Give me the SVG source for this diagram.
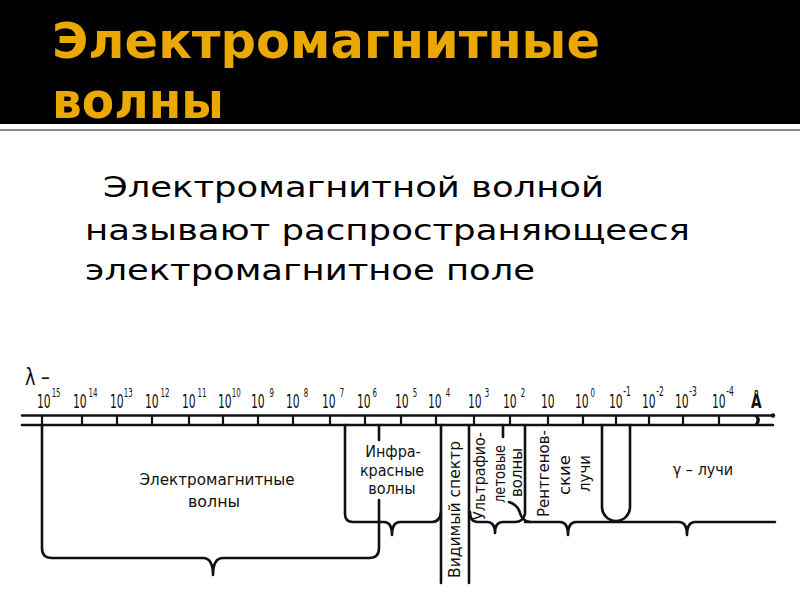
<svg xmlns="http://www.w3.org/2000/svg" width="800" height="600" viewBox="0 0 800 600">
<style>
.title{font-family:"DejaVu Sans","Liberation Sans",sans-serif;font-weight:bold;font-size:50px;fill:#EBA800}
.body{font-family:"DejaVu Sans","Liberation Sans",sans-serif;font-size:29px;fill:#000}
.lab{font-family:"DejaVu Sans Condensed","DejaVu Sans","Liberation Sans",sans-serif;font-size:16px;fill:#111}
.num text{font-family:"DejaVu Sans Condensed","DejaVu Sans","Liberation Sans",sans-serif;fill:#111;font-size:20px}
.s{font-size:13px}
.ln{fill:none;stroke:#111;stroke-width:2.6;stroke-linejoin:round;stroke-linecap:round}
.tk{fill:none;stroke:#111;stroke-width:2.2}
</style>
<rect x="0" y="0" width="800" height="600" fill="#fff"/>
<g id="header">
<rect x="0" y="0" width="800" height="124" fill="#000"/>
<line x1="0" y1="130" x2="800" y2="130" stroke="#8a8a8a" stroke-width="2"/>
<text class="title" x="52" y="58" textLength="548" lengthAdjust="spacingAndGlyphs">Электромагнитные</text>
<text class="title" x="52" y="118" textLength="172" lengthAdjust="spacingAndGlyphs">волны</text>
</g>
<g id="definition">
<text class="body" x="103" y="197" textLength="501" lengthAdjust="spacingAndGlyphs">Электромагнитной волной</text>
<text class="body" x="85" y="240" textLength="605" lengthAdjust="spacingAndGlyphs">называют распространяющееся</text>
<text class="body" x="85" y="280" textLength="450" lengthAdjust="spacingAndGlyphs">электромагнитное поле</text>
</g>
<g id="scale">
<g class="num">
<text transform="translate(25,385) scale(0.85,1)" style="font-size:23px">λ –</text>
<text transform="translate(37,408) scale(0.6,1)">10<tspan class="s" dx="1.5" dy="-11">15</tspan></text>
<text transform="translate(73,408) scale(0.6,1)">10<tspan class="s" dx="3" dy="-11">14</tspan></text>
<text transform="translate(110,408) scale(0.6,1)">10<tspan class="s" dx="0" dy="-11">13</tspan></text>
<text transform="translate(145,408) scale(0.6,1)">10<tspan class="s" dx="3" dy="-11">12</tspan></text>
<text transform="translate(182,408) scale(0.6,1)">10<tspan class="s" dx="3" dy="-11">11</tspan></text>
<text transform="translate(218,408) scale(0.6,1)">10<tspan class="s" dx="0" dy="-11">10</tspan></text>
<text transform="translate(251,408) scale(0.6,1)">10<tspan class="s" dx="8" dy="-11">9</tspan></text>
<text transform="translate(286,408) scale(0.6,1)">10<tspan class="s" dx="6.5" dy="-11">8</tspan></text>
<text transform="translate(322,408) scale(0.6,1)">10<tspan class="s" dx="6.5" dy="-11">7</tspan></text>
<text transform="translate(357,408) scale(0.6,1)">10<tspan class="s" dx="3" dy="-11">6</tspan></text>
<text transform="translate(395,408) scale(0.6,1)">10<tspan class="s" dx="6.5" dy="-11">5</tspan></text>
<text transform="translate(428,408) scale(0.6,1)">10<tspan class="s" dx="6.5" dy="-11">4</tspan></text>
<text transform="translate(468,408) scale(0.6,1)">10<tspan class="s" dx="5" dy="-11">3</tspan></text>
<text transform="translate(503,408) scale(0.6,1)">10<tspan class="s" dx="6.5" dy="-11">2</tspan></text>
<text transform="translate(541,408) scale(0.6,1)">10</text>
<text transform="translate(575,408) scale(0.6,1)">10<tspan class="s" dx="3" dy="-11">0</tspan></text>
<text transform="translate(609,408) scale(0.6,1)">10<tspan class="s" dx="1" dy="-12" style="font-size:14px">-1</tspan></text>
<text transform="translate(642,408) scale(0.6,1)">10<tspan class="s" dx="1" dy="-12" style="font-size:14px">-2</tspan></text>
<text transform="translate(675,408) scale(0.6,1)">10<tspan class="s" dx="1" dy="-12" style="font-size:14px">-3</tspan></text>
<text transform="translate(712,408) scale(0.6,1)">10<tspan class="s" dx="1" dy="-12" style="font-size:14px">-4</tspan></text>
<text transform="translate(751,408) scale(0.8,1)" style="font-size:19px;font-weight:bold">Å</text>
</g>
<path class="ln" d="M22,415.5 H773 M22,425 H773"/>
<circle cx="773" cy="415.5" r="2.2" fill="#111"/>
<path d="M753,415 Q760,420 753,426 L757,426 Q763,420 757,415 Z" fill="#111"/>
<path class="tk" d="M42,416 V425 M82,416 V425 M117,416 V425 M152,416 V425 M189,416 V425 M223,416 V425 M258,416 V425 M293,416 V425 M330,416 V425 M365,416 V425 M401,416 V425 M436,416 V425 M474,416 V425 M510,416 V425 M548,416 V425 M583,416 V425 M616,416 V425 M649,416 V425 M683,416 V425 M719,416 V425"/>
</g>
<g id="connectors">
<path class="ln" d="M42,425 V548 Q42,558 52,558 H203 Q213,558 213,575 Q213,558 223,558 H369 Q379,558 379,548 V500"/>
<path class="ln" d="M379,425 V440"/>
<path class="ln" d="M345,425 V514 Q345,522 353,522 H384 Q392,522 392,535 Q392,522 400,522 H432 Q440,522 441,512"/>
<path class="ln" d="M441,425 V583 M469,425 V583"/>
<path class="ln" d="M470,512 Q470,522 478,522 H487 Q495,522 495,533 Q495,522 503,522 H515 Q523,522 525,514 V425"/>
<path class="ln" d="M503,425 V437"/>
<path class="ln" d="M509,502 Q518,505 520,513 Q522,521 530,522"/>
<path class="ln" d="M525,522 H560 Q568,522 568,535 Q568,522 576,522 H679 Q687,522 687,535 Q687,522 695,522 H775"/>
<path class="ln" d="M602,425 V507 A14,14 0 0 0 630,507 V425"/>
</g>
<g id="em-waves">
<text class="lab" x="217" y="485" text-anchor="middle" font-size="17" textLength="155" lengthAdjust="spacingAndGlyphs">Электромагнитные</text>
<text class="lab" x="214" y="507" text-anchor="middle" font-size="17" textLength="52" lengthAdjust="spacingAndGlyphs">волны</text>
</g>
<g id="infrared">
<text class="lab" x="393" y="457" text-anchor="middle" font-size="17">Инфра-</text>
<text class="lab" x="392" y="476" text-anchor="middle" font-size="17">красные</text>
<text class="lab" x="392" y="494" text-anchor="middle" font-size="17">волны</text>
</g>
<g id="visible">
<text class="lab" transform="translate(460,578) rotate(-90)" font-size="17" textLength="137" lengthAdjust="spacingAndGlyphs">Видимый спектр</text>
</g>
<g id="ultraviolet">
<text class="lab" transform="translate(485,520) rotate(-90)" font-size="16" textLength="88" lengthAdjust="spacingAndGlyphs">Ультрафио-</text>
<text class="lab" transform="translate(505,503) rotate(-90)" font-size="16" textLength="58" lengthAdjust="spacingAndGlyphs">летовые</text>
<text class="lab" transform="translate(522,497) rotate(-90)" font-size="16" textLength="49" lengthAdjust="spacingAndGlyphs">волны</text>
</g>
<g id="xray">
<text class="lab" transform="translate(549,517) rotate(-90)" font-size="17" textLength="87" lengthAdjust="spacingAndGlyphs">Рентгенов-</text>
<text class="lab" transform="translate(570,495) rotate(-90)" font-size="17" textLength="40" lengthAdjust="spacingAndGlyphs">ские</text>
<text class="lab" transform="translate(590,492) rotate(-90)" font-size="17" textLength="37" lengthAdjust="spacingAndGlyphs">лучи</text>
</g>
<g id="gamma">
<text class="lab" x="703" y="475" text-anchor="middle" font-size="18">γ – лучи</text>
</g>
</svg>
